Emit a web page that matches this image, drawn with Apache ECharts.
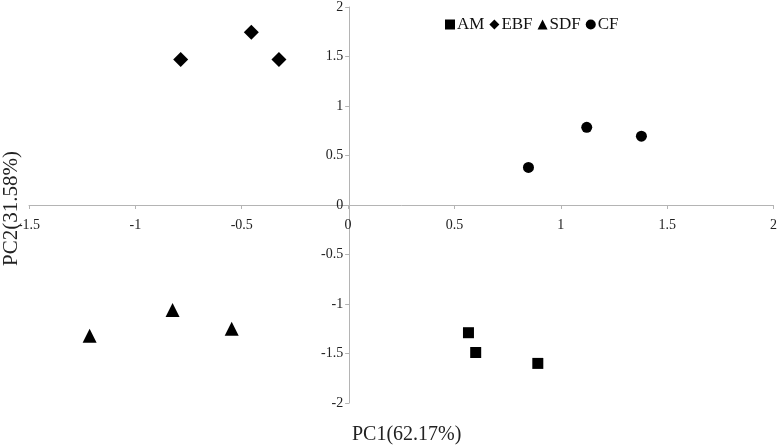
<!DOCTYPE html>
<html>
<head>
<meta charset="utf-8">
<script src="https://cdn.jsdelivr.net/npm/echarts@6/dist/echarts.min.js"></script>
<style>
  html, body { margin: 0; padding: 0; background: #fff; }
  #chart { width: 780px; height: 447px; }
</style>
</head>
<body>
<div id="chart"></div>
<script>
// PCA scores
const amPoints  = [[0.566, -1.29], [0.60, -1.49], [0.892, -1.60]];
const ebfPoints = [[-0.787, 1.47], [-0.455, 1.745], [-0.325, 1.47]];
const sdfPoints = [[-1.215, -1.32], [-0.825, -1.06], [-0.547, -1.25]];
const cfPoints  = [[0.848, 0.38], [1.122, 0.785], [1.379, 0.695]];
const seriesNames = ['AM', 'EBF', 'SDF', 'CF'];
const xLabel = 'PC1(62.17%)';
const yLabel = 'PC2(31.58%)';

const serif = '"Liberation Serif", "DejaVu Serif", serif';
const axisGrey = '#b4b4b4';

// grid box, the axes cross at (0, 0) inside it
const gridLeft = 29, gridRight = 4, gridTop = 7, gridBottom = 44;
const W = 780, H = 447;
const zeroX = gridLeft + (W - gridLeft - gridRight) * (1.5 / 3.5);
const zeroY = gridTop + (H - gridTop - gridBottom) / 2;

let chart = echarts.init(document.getElementById('chart'));

function scatter(name, data, symbol, size) {
    return {
        name: name,
        type: 'scatter',
        data: data,
        symbol: symbol,
        symbolSize: size,
        itemStyle: { color: '#000', opacity: 1 },
        emphasis: { disabled: true }
    };
}

let option = {
    animation: false,
    textStyle: { fontFamily: serif },
    grid: { left: gridLeft, right: gridRight, top: gridTop, bottom: gridBottom },
    legend: {
        data: seriesNames,
        left: 440,
        top: 11,
        itemWidth: 10,
        itemHeight: 10,
        itemGap: 5,
        textStyle: { fontFamily: serif, fontSize: 17, color: '#111', padding: [0, 0, 0, -3] }
    },
    xAxis: {
        type: 'value',
        min: -1.5,
        max: 2,
        interval: 0.5,
        offset: -(H - gridBottom - zeroY),
        axisLine: { onZero: false, lineStyle: { color: axisGrey, width: 1 } },
        axisTick: { show: true, length: 4, lineStyle: { color: axisGrey } },
        axisLabel: { color: '#222', fontSize: 14, fontFamily: serif, margin: 13 },
        splitLine: { show: false }
    },
    yAxis: {
        type: 'value',
        min: -2,
        max: 2,
        interval: 0.5,
        offset: -(zeroX - gridLeft),
        axisLine: { show: true, onZero: false, lineStyle: { color: axisGrey, width: 1 } },
        axisTick: { show: true, length: 4, lineStyle: { color: axisGrey } },
        axisLabel: { color: '#222', fontSize: 14, fontFamily: serif, margin: 6 },
        splitLine: { show: false }
    },
    graphic: [
        {
            type: 'text',
            left: 352,
            top: 425,
            style: { text: xLabel, font: '20px ' + serif, fill: '#222' }
        },
        {
            type: 'text',
            x: 1,
            y: 266,
            rotation: Math.PI / 2,
            style: { text: yLabel, font: '21px ' + serif, fill: '#222', textVerticalAlign: 'top' }
        }
    ],
    series: [
        scatter('AM', amPoints, 'rect', 11),
        scatter('EBF', ebfPoints, 'diamond', 15),
        scatter('SDF', sdfPoints, 'triangle', 14),
        scatter('CF', cfPoints, 'circle', 11)
    ]
};

chart.setOption(option);
</script>
</body>
</html>
